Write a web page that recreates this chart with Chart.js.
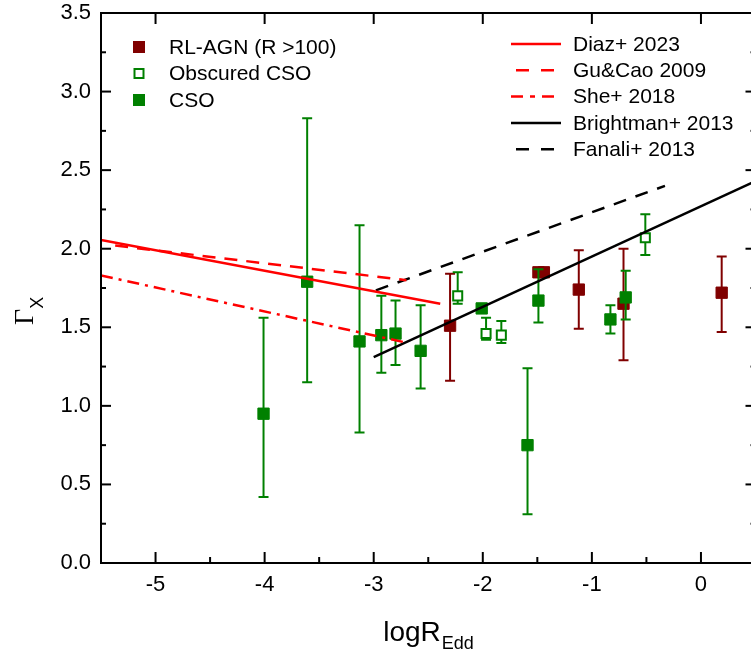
<!DOCTYPE html>
<html><head><meta charset="utf-8">
<script src="https://cdn.jsdelivr.net/npm/chart.js@4.4.1/dist/chart.umd.min.js"></script>
<style>html,body{margin:0;padding:0;overflow:hidden;background:#fff;width:751px;height:658px}canvas{display:block}</style>
</head><body>
<canvas id="c" width="760" height="658" style="width:760px;height:658px"></canvas>
<script>
// ---- axis range / ticks ----
const X_MIN = -5.5, X_MAX = 0.5;
const X_TICKS = [-5, -4, -3, -2, -1, 0];
const X_MINOR = [-4.5, -3.5, -2.5, -1.5, -0.5];
const Y_TICKS = [0, 0.5, 1, 1.5, 2, 2.5, 3, 3.5];
const Y_MINOR = [0.25, 0.75, 1.25, 1.75, 2.25, 2.75, 3.25];

// ---- CSO (filled green) ----
const cso_x  = [-4.01, -3.61, -3.13, -2.93, -2.80, -2.57, -2.01, -1.59, -1.49, -0.83, -0.69];
const cso_y  = [0.95, 1.79, 1.41, 1.45, 1.46, 1.35, 1.62, 0.75, 1.67, 1.55, 1.69];
const cso_hi = [1.56, 2.83, 2.15, 1.70, 1.67, 1.64, 1.64, 1.24, 1.87, 1.64, 1.86];
const cso_lo = [0.42, 1.15, 0.83, 1.21, 1.26, 1.11, 1.60, 0.31, 1.53, 1.46, 1.55];

// ---- Obscured CSO (open green) ----
const obs_x  = [-2.23, -1.97, -1.83, -0.51];
const obs_y  = [1.70, 1.46, 1.45, 2.07];
const obs_hi = [1.85, 1.56, 1.54, 2.22];
const obs_lo = [1.65, 1.42, 1.40, 1.96];

// ---- RL-AGN (dark red) ----
const rl_x  = [-2.30, -1.49, -1.44, -1.12, -0.71, 0.19];
const rl_y  = [1.51, 1.85, 1.85, 1.74, 1.65, 1.72];
const rl_hi = [1.84, 1.87, 1.87, 1.99, 2.00, 1.95];
const rl_lo = [1.16, 1.83, 1.83, 1.49, 1.29, 1.47];

// ---- relations ----
const diaz_x   = [-5.5, -2.39];  const diaz_y   = [2.055, 1.65];
const gucao_x  = [-5.37, -2.70]; const gucao_y  = [2.02, 1.80];
const she_x    = [-5.5, -2.72];  const she_y    = [1.83, 1.405];
const bright_x = [-3.0, 0.5];    const bright_y = [1.31, 2.43];
const fanali_x = [-2.98, -0.33]; const fanali_y = [1.735, 2.40];

const FONT = '"Liberation Sans", Arial, sans-serif';
const GREEN = '#008000', DRED = '#800000', RED = '#ff0000';
const pts = (xs, ys) => xs.map((x, i) => ({x, y: ys[i]}));

function lineDs(xs, ys, color, dash) {
  return {data: pts(xs, ys), showLine: true, borderColor: color, borderWidth: 2.5,
          borderDash: dash, pointRadius: 0, fill: false, tension: 0};
}
function zeroPad(s) { s.paddingTop = 0; s.paddingBottom = 0; s.paddingLeft = 0; s.paddingRight = 0; }

const errPlugin = {
  id: 'err',
  beforeDatasetDraw(chart, args) {
    const ds = chart.data.datasets[args.index];
    if (!ds.errLo) return;
    const {ctx, chartArea: a} = chart, xs = chart.scales.x, ys = chart.scales.y;
    ctx.save();
    ctx.beginPath(); ctx.rect(a.left, a.top, a.right - a.left, a.bottom - a.top); ctx.clip();
    ctx.strokeStyle = ds.errColor; ctx.lineWidth = 2;
    ds.data.forEach((p, i) => {
      const px = xs.getPixelForValue(p.x);
      const t = ys.getPixelForValue(ds.errHi[i]), b = ys.getPixelForValue(ds.errLo[i]);
      ctx.beginPath();
      ctx.moveTo(px, t); ctx.lineTo(px, b);
      ctx.moveTo(px - 5, t); ctx.lineTo(px + 5, t);
      ctx.moveTo(px - 5, b); ctx.lineTo(px + 5, b);
      ctx.stroke();
    });
    ctx.restore();
  }
};

const framePlugin = {
  id: 'frame',
  afterDraw(chart) {
    const {ctx, chartArea: a} = chart, xs = chart.scales.x, ys = chart.scales.y;
    const L = (x1, y1, x2, y2) => { ctx.beginPath(); ctx.moveTo(x1, y1); ctx.lineTo(x2, y2); ctx.stroke(); };
    const R = a.right;
    ctx.save();
    ctx.strokeStyle = '#000'; ctx.lineWidth = 2; ctx.lineCap = 'butt';
    ctx.strokeRect(a.left, a.top, R - a.left, a.bottom - a.top);
    X_TICKS.forEach(v => { const p = xs.getPixelForValue(v); L(p, a.bottom, p, a.bottom - 11); L(p, a.top, p, a.top + 11); });
    X_MINOR.forEach(v => { const p = xs.getPixelForValue(v); L(p, a.bottom, p, a.bottom - 6); });
    Y_TICKS.forEach(v => { const p = ys.getPixelForValue(v); L(a.left, p, a.left + 10, p); L(R, p, R - 10, p); });
    Y_MINOR.forEach(v => { const p = ys.getPixelForValue(v); L(a.left, p, a.left + 5, p); L(R, p, R - 5, p); });

    // axis titles
    ctx.fillStyle = '#000'; ctx.textBaseline = 'alphabetic'; ctx.textAlign = 'left';
    ctx.font = '28px ' + FONT; const w1 = ctx.measureText('logR').width;
    ctx.font = '18px ' + FONT; const w2 = ctx.measureText('Edd').width;
    const x0 = 428 - (w1 + w2) / 2;
    ctx.font = '28px ' + FONT; ctx.fillText('logR', x0, 641);
    ctx.font = '18px ' + FONT; ctx.fillText('Edd', x0 + w1 + 1, 649);

    ctx.save();
    ctx.translate(33, 310.5); ctx.rotate(-Math.PI / 2);
    ctx.font = '28px "Liberation Serif", "Times New Roman", serif';
    const gw = ctx.measureText('Γ').width;
    ctx.fillText('Γ', -14.5, 0);
    ctx.font = '18px ' + FONT; ctx.fillText('X', -14.5 + gw, 10);
    ctx.restore();

    // left legend
    ctx.font = '21px ' + FONT; ctx.textBaseline = 'middle';
    const leftRows = [['RL-AGN (R >100)', 'fill', DRED], ['Obscured CSO', 'open', GREEN], ['CSO', 'fill', GREEN]];
    const lyy = [47, 73.5, 100];
    leftRows.forEach((r, i) => {
      const cy = lyy[i];
      if (r[1] === 'fill') { ctx.fillStyle = r[2]; ctx.fillRect(139 - 6, cy - 6, 12, 12); }
      else { ctx.strokeStyle = r[2]; ctx.lineWidth = 2; ctx.strokeRect(139 - 4.5, cy - 4.5, 9, 9); }
      ctx.fillStyle = '#000'; ctx.fillText(r[0], 169, cy + 1);
    });

    // right legend
    const rightRows = [['Diaz+ 2023', RED, []], ['Gu&Cao 2009', RED, [13, 12]], ['She+ 2018', RED, [12, 7, 5, 7]],
                       ['Brightman+ 2013', '#000', []], ['Fanali+ 2013', '#000', [13, 12]]];
    rightRows.forEach((r, i) => {
      const cy = 44 + i * 26.3;
      ctx.strokeStyle = r[1]; ctx.lineWidth = 2.5; ctx.setLineDash(r[2]);
      const xs0 = r[2].length === 2 ? 516 : 511, xe = r[2].length === 2 ? 555 : 561;
      L(xs0, cy, xe, cy);
      ctx.setLineDash([]);
      ctx.fillStyle = '#000'; ctx.fillText(r[0], 573, cy + 1);
    });
    ctx.restore();
  }
};

const chart = new Chart(document.getElementById('c'), {
  type: 'scatter',
  data: {
    datasets: [
      lineDs(diaz_x, diaz_y, RED, []),
      lineDs(gucao_x, gucao_y, RED, [13, 9]),
      lineDs(she_x, she_y, RED, [12, 6, 3, 6]),
      lineDs(bright_x, bright_y, '#000', []),
      lineDs(fanali_x, fanali_y, '#000', [13, 10]),
      {data: pts(cso_x, cso_y), pointStyle: 'rect', pointRadius: 8, borderWidth: 1,
       pointBackgroundColor: GREEN, pointBorderColor: GREEN, showLine: false,
       errHi: cso_hi, errLo: cso_lo, errColor: GREEN},
      {data: pts(obs_x, obs_y), pointStyle: 'rect', pointRadius: 6.4, borderWidth: 2,
       pointBackgroundColor: '#fff', pointBorderColor: GREEN, showLine: false,
       errHi: obs_hi, errLo: obs_lo, errColor: GREEN},
      {data: pts(rl_x, rl_y), pointStyle: 'rect', pointRadius: 8, borderWidth: 1,
       pointBackgroundColor: DRED, pointBorderColor: DRED, showLine: false,
       errHi: rl_hi, errLo: rl_lo, errColor: DRED}
    ]
  },
  options: {
    responsive: false, animation: false, devicePixelRatio: 1,
    layout: {autoPadding: false, padding: {left: 0, top: 13, right: 4.5, bottom: 0}},
    plugins: {legend: {display: false}, tooltip: {enabled: false}},
    scales: {
      x: {
        type: 'linear', min: X_MIN, max: X_MAX,
        afterBuildTicks: s => { s.ticks = X_TICKS.map(v => ({value: v})); },
        afterFit: s => { s.height = 95; zeroPad(s); },
        grid: {display: false, drawTicks: false}, border: {display: false},
        ticks: {color: '#000', font: {family: FONT, size: 22}, padding: 9, maxRotation: 0, autoSkip: false,
                callback: v => String(v)}
      },
      y: {
        type: 'linear', min: 0, max: 3.5,
        afterBuildTicks: s => { s.ticks = Y_TICKS.map(v => ({value: v})); },
        afterFit: s => { s.width = 101; zeroPad(s); },
        grid: {display: false, drawTicks: false}, border: {display: false},
        ticks: {color: '#000', font: {family: FONT, size: 22}, padding: 10, autoSkip: false,
                callback: v => v.toFixed(1)}
      }
    }
  },
  plugins: [errPlugin, framePlugin]
});
</script>
</body></html>
